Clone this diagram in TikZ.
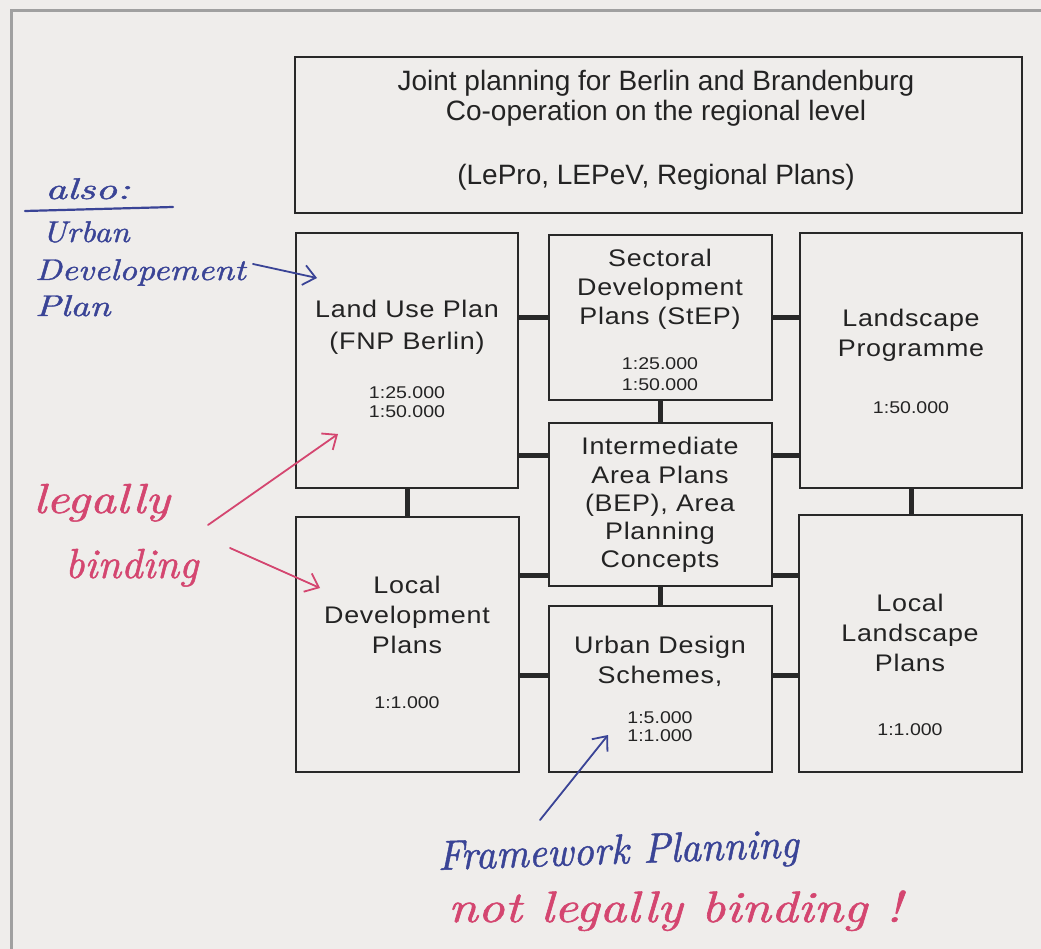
\documentclass[tikz,border=0pt]{standalone}
\usepackage{fontspec}
\usepackage{graphicx}
\setmainfont{Liberation Sans}
\newfontfamily\titlefont{Liberation Sans}
\newfontfamily\boxfont{Liberation Sans}[FakeStretch=1.12,LetterSpace=3]
\newfontfamily\numfont{Liberation Sans}[FakeStretch=1.15]
\newfontfamily\handfont{lmroman10-italic.otf}[FakeBold=1.2]
\usetikzlibrary{arrows.meta,calc}
\definecolor{bg}{RGB}{239,237,235}
\definecolor{framegray}{RGB}{160,160,160}
\definecolor{boxline}{RGB}{40,40,40}
\definecolor{ink}{RGB}{35,35,35}
\definecolor{hblue}{RGB}{58,68,150}
\definecolor{hred}{RGB}{212,70,112}
\begin{document}
\begin{tikzpicture}[x=1pt,y=-1pt,
  box/.style={draw=boxline,line width=2.2pt,rectangle,inner sep=0pt},
  link/.style={draw=boxline,line width=5pt},
  toptext/.style={anchor=base,inner sep=0pt,text=ink,font=\titlefont\fontsize{28}{28}\selectfont},
  tl/.style={anchor=base,inner sep=0pt,text=ink,font=\boxfont\fontsize{24}{24}\selectfont},
  nl/.style={anchor=base,inner sep=0pt,text=ink,font=\numfont\fontsize{17}{17}\selectfont},
  hb/.style={anchor=base west,inner sep=0pt,text=hblue,font=\handfont\fontsize{30}{30}\selectfont},
  hr/.style={anchor=base west,inner sep=0pt,text=hred,font=\handfont\fontsize{42}{42}\selectfont},
  barrow/.style={draw=hblue,line width=1.8pt,line cap=round,-{Straight Barb[length=12pt,width=20pt,line width=1.8pt]}},
  rarrow/.style={draw=hred,line width=1.8pt,line cap=round,-{Straight Barb[length=12pt,width=20pt,line width=1.8pt]}},
]
\useasboundingbox (0,0) rectangle (1041,949);
\fill[bg] (0,0) rectangle (1041,949);
\draw[framegray,line width=3pt] (11,949) -- (11,11) -- (1041,11);

% boxes
\node[box,minimum width=727pt,minimum height=156pt] (top) at (658.5,135) {};
\node[box,minimum width=222pt,minimum height=255pt] (land) at (407,360.5) {};
\node[box,minimum width=223pt,minimum height=165pt] (sect) at (660.5,317.5) {};
\node[box,minimum width=222pt,minimum height=255pt] (lprog) at (911,360.5) {};
\node[box,minimum width=223pt,minimum height=163pt] (inter) at (660.5,504.5) {};
\node[box,minimum width=223pt,minimum height=255pt] (ldev) at (407.5,644.5) {};
\node[box,minimum width=223pt,minimum height=166pt] (urban) at (660.5,689) {};
\node[box,minimum width=223pt,minimum height=257pt] (lland) at (910.5,643.5) {};

% connectors
\draw[link] (land.east |- sect.west) -- (sect.west);
\draw[link] (sect.east) -- (sect.east -| lprog.west);
\draw[link] ([yshift=49.5pt]inter.west -| land.east) -- ([yshift=49.5pt]inter.west);
\draw[link] ([yshift=49.5pt]inter.east) -- ([yshift=49.5pt]inter.east -| lprog.west);
\draw[link] ([yshift=-70.5pt]inter.west -| ldev.east) -- ([yshift=-70.5pt]inter.west);
\draw[link] ([yshift=-70.5pt]inter.east) -- ([yshift=-70.5pt]inter.east -| lland.west);
\draw[link] ([yshift=14pt]urban.west -| ldev.east) -- ([yshift=14pt]urban.west);
\draw[link] ([yshift=14pt]urban.east) -- ([yshift=14pt]urban.east -| lland.west);
\draw[link] (sect.south) -- (inter.north);
\draw[link] (inter.south) -- (urban.north);
\draw[link] (land.south) -- (land.south |- ldev.north);
\draw[link] (lprog.south) -- (lprog.south |- lland.north);

% top box text
\node[toptext] (t1) at (656,91) {Joint planning for Berlin and Brandenburg};
\node[toptext] (t2) at (656,121) {Co-operation on the regional level};
\node[toptext] (t3) at (656,185) {(LePro, LEPeV, Regional Plans)};

% land use plan
\node[tl] (la1) at (407,318) {Land Use Plan};
\node[tl] (la2) at (407,349) {(FNP Berlin)};
\node[nl] (la3) at (407,399) {1:25.000};
\node[nl] (la4) at (407,417) {1:50.000};

% sectoral
\node[tl] (se1) at (660,267) {Sectoral};
\node[tl] (se2) at (660,296) {Development};
\node[tl] (se3) at (660,325) {Plans (StEP)};
\node[nl] (se4) at (660,370) {1:25.000};
\node[nl] (se5) at (660,390) {1:50.000};

% landscape programme
\node[tl] (lp1) at (911,327) {Landscape};
\node[tl] (lp2) at (911,356) {Programme};
\node[nl] (lp3) at (911,413) {1:50.000};

% intermediate
\node[tl] (in1) at (660,454) {Intermediate};
\node[tl] (in2) at (660,483) {Area Plans};
\node[tl] (in3) at (660,511) {(BEP), Area};
\node[tl] (in4) at (660,539) {Planning};
\node[tl] (in5) at (660,567) {Concepts};

% local development
\node[tl] (ld1) at (407,593) {Local};
\node[tl] (ld2) at (407,623) {Development};
\node[tl] (ld3) at (407,653) {Plans};
\node[nl] (ld4) at (407,708) {1:1.000};

% urban design
\node[tl] (ud1) at (660,653) {Urban Design};
\node[tl] (ud2) at (660,683) {Schemes,};
\node[nl] (ud3) at (660,723) {1:5.000};
\node[nl] (ud4) at (660,741) {1:1.000};

% local landscape
\node[tl] (ll1) at (910,611) {Local};
\node[tl] (ll2) at (910,641) {Landscape};
\node[tl] (ll3) at (910,671) {Plans};
\node[nl] (ll4) at (910,735) {1:1.000};

% handwritten notes (blue)
\node[hb] (hAlso) at (45,199) {\scalebox{1.42}[1]{also:}};
\draw[hblue,line width=2.2pt,line cap=round] (25,211) -- (173,207);
\node[hb] (hUrban) at (42,242) {\scalebox{1.1}[1]{Urban}};
\node[hb] (hDev) at (35,280) {\scalebox{1.17}[1]{Developement}};
\node[hb] (hPlan) at (35,316) {\scalebox{1.25}[1]{Plan}};
\coordinate (bA1) at (253,264);
\coordinate (bA2) at (317,278);
\draw[barrow] (bA1) -- (bA2);

% handwritten notes (red)
\node[hr] (hLeg) at (33,513) {\scalebox{1.2}[1]{legally}};
\node[hr] (hBind) at (65,578) {\scalebox{1.0}[1]{binding}};
\coordinate (rA1) at (208,525);
\coordinate (rA2) at (338,434);
\coordinate (rB1) at (230,548);
\coordinate (rB2) at (320,588);
\draw[rarrow] (rA1) -- (rA2);
\draw[rarrow] (rB1) -- (rB2);

% framework planning
\node[hb,font=\handfont\fontsize{42}{42}\selectfont,rotate=2] (hFrame) at (438,870) {\scalebox{0.95}[1]{Framework Planning}};
\coordinate (bB1) at (540,820);
\coordinate (bB2) at (608,735);
\draw[barrow] (bB1) -- (bB2);
\node[hr,font=\handfont\fontsize{44}{44}\selectfont] (hNot) at (448,922) {\scalebox{1.19}[1]{not legally binding !}};
\end{tikzpicture}
\end{document}
